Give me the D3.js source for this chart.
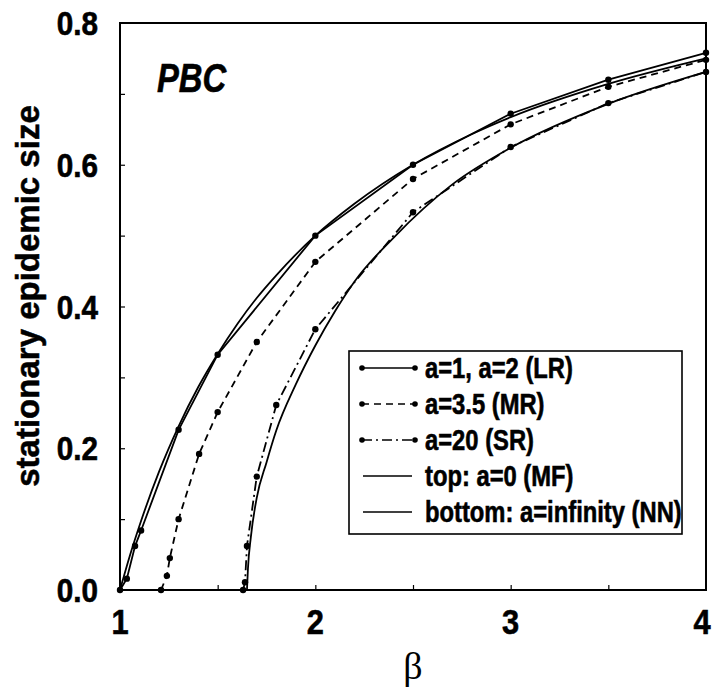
<!DOCTYPE html>
<html><head><meta charset="utf-8">
<script src="https://cdn.jsdelivr.net/npm/d3@7"></script>
<style>
html,body{margin:0;padding:0;background:#fff;}
svg{display:block;}
</style></head>
<body>
<script>
// ---- data ----
const betaLR = [1.0, 1.035, 1.077, 1.108, 1.3, 1.5, 2.0, 2.5, 3.0, 3.5, 4.0];
const valLR  = [0.0, 0.016, 0.062, 0.084, 0.226, 0.332, 0.5, 0.6, 0.672, 0.72, 0.758];

const betaMR = [1.21, 1.24, 1.255, 1.3, 1.405, 1.5, 1.7, 2.0, 2.5, 3.0, 3.5, 4.0];
const valMR  = [0.0, 0.02, 0.045, 0.10, 0.192, 0.251, 0.35, 0.463, 0.58, 0.657, 0.71, 0.748];

const betaSR = [1.63, 1.64, 1.65, 1.7, 1.8, 2.0, 2.5, 3.0, 3.5, 4.0];
const valSR  = [0.0, 0.011, 0.062, 0.16, 0.261, 0.368, 0.533, 0.625, 0.687, 0.731];

const betaMF = [1.0, 1.05, 1.1, 1.2, 1.3, 1.4, 1.5, 1.6, 1.7, 1.8, 2.0, 2.2, 2.5, 2.8, 3.0, 3.5, 4.0];
const valMF  = [0.0, 0.048, 0.091, 0.167, 0.231, 0.286, 0.333, 0.375, 0.412, 0.444, 0.5, 0.545, 0.6, 0.643, 0.667, 0.714, 0.75];

const betaNN = [1.65, 1.655, 1.67, 1.7, 1.75, 1.8, 1.9, 2.0, 2.1, 2.2, 2.4, 2.7, 3.0, 3.5, 4.0];
const valNN  = [0.0, 0.03, 0.075, 0.13, 0.18, 0.225, 0.29, 0.345, 0.393, 0.435, 0.497, 0.572, 0.624, 0.686, 0.731];

const xTicks = [1, 2, 3, 4];
const yTicks = [0.0, 0.2, 0.4, 0.6, 0.8];
const legendLabels = ["a=1, a=2 (LR)", "a=3.5 (MR)", "a=20 (SR)", "top: a=0 (MF)", "bottom: a=infinity (NN)"];

// ---- chart ----
const W = 712, H = 694;
const svg = d3.select("body").append("svg").attr("width", W).attr("height", H);
const x = d3.scaleLinear().domain([1, 4]).range([120, 706]);
const y = d3.scaleLinear().domain([0, 0.8]).range([590, 23]);
const SANS = "'Liberation Sans', Arial, Helvetica, sans-serif";

// condensed bold text helper
function ntext(parent, tx, ty, txt, size, anchor, sx, italic) {
  const g = parent.append("g").attr("transform", `translate(${tx},${ty}) scale(${sx},1)`);
  g.append("text").attr("x", 0).attr("y", 0)
    .attr("text-anchor", anchor)
    .attr("font-family", SANS).attr("font-weight", "bold")
    .attr("font-style", italic ? "italic" : "normal")
    .attr("font-size", size)
    .attr("stroke", "#000").attr("stroke-width", 0.6)
    .text(txt);
  return g;
}

// frame
svg.append("rect").attr("x", x(1)).attr("y", y(0.8))
  .attr("width", x(4) - x(1)).attr("height", y(0) - y(0.8))
  .attr("fill", "none").attr("stroke", "#000").attr("stroke-width", 2);

// axes with inward ticks
const xAxis = d3.axisTop(x).tickValues(d3.range(1.5, 4, 0.5)).tickSize(5).tickFormat("");
svg.append("g").attr("transform", `translate(0,${y(0)})`).call(xAxis)
  .call(g => g.select(".domain").remove())
  .call(g => g.selectAll("line").attr("stroke-width", 1.2));
const yAxis = d3.axisRight(y).tickValues(d3.range(0.1, 0.8, 0.1)).tickSize(5).tickFormat("");
svg.append("g").attr("transform", `translate(${x(1)},0)`).call(yAxis)
  .call(g => g.select(".domain").remove())
  .call(g => g.selectAll("line").attr("stroke-width", 1.2));

// tick labels
const xl = svg.append("g");
xTicks.forEach(d => ntext(xl, Math.min(x(d), 702), 634, String(d), 35, "middle", 0.88));
const yl = svg.append("g");
yTicks.forEach(d => ntext(yl, 98, y(d) + 12, d.toFixed(1), 33, "end", 0.9));

// axis titles
svg.append("text").attr("transform", "translate(39,296) rotate(-90)")
  .attr("text-anchor", "middle")
  .attr("font-family", SANS).attr("font-weight", "bold").attr("font-size", 33)
  .attr("stroke", "#000").attr("stroke-width", 0.5)
  .text("stationary epidemic size");
svg.append("text").attr("x", 413).attr("y", 679).attr("text-anchor", "middle")
  .attr("font-family", "'Liberation Serif', 'Times New Roman', serif").attr("font-size", 38)
  .text("β");

// PBC
ntext(svg, 157, 92, "PBC", 41, "start", 0.8, true);

// curves
const lineLin = d3.line().x(d => x(d[0])).y(d => y(d[1]));
const lineSmooth = d3.line().x(d => x(d[0])).y(d => y(d[1])).curve(d3.curveMonotoneX);
const zip = (a, b) => a.map((v, i) => [v, b[i]]);

const series = [
  {pts: zip(betaMF, valMF), dash: null, dots: false, smooth: true},
  {pts: zip(betaNN, valNN), dash: null, dots: false, smooth: true},
  {pts: zip(betaLR, valLR), dash: null, dots: true, smooth: false},
  {pts: zip(betaMR, valMR), dash: "7,5", dots: true, smooth: false},
  {pts: zip(betaSR, valSR), dash: "10,4,2,4", dots: true, smooth: false}
];
series.forEach(s => {
  svg.append("path").datum(s.pts)
    .attr("d", s.smooth ? lineSmooth : lineLin)
    .attr("fill", "none").attr("stroke", "#000").attr("stroke-width", 1.8)
    .attr("stroke-dasharray", s.dash);
  if (s.dots) {
    svg.append("g").selectAll("circle").data(s.pts).join("circle")
      .attr("cx", d => x(d[0])).attr("cy", d => y(d[1])).attr("r", 3.2).attr("fill", "#000");
  }
});

// legend
const lg = svg.append("g");
lg.append("rect").attr("x", 349).attr("y", 351).attr("width", 333).attr("height", 183)
  .attr("fill", "#fff").attr("stroke", "#000").attr("stroke-width", 1.6);
const legendStyles = [
  {dash: null, dots: true}, {dash: "7,5", dots: true}, {dash: "10,4,2,4", dots: true},
  {dash: null, dots: false}, {dash: null, dots: false}
];
legendLabels.forEach((lab, i) => {
  const cy = 368 + i * 36;
  const st = legendStyles[i];
  const x0 = st.dots ? 362 : 363, x1 = st.dots ? 415 : 412;
  lg.append("line").attr("x1", x0).attr("x2", x1).attr("y1", cy).attr("y2", cy)
    .attr("stroke", "#000").attr("stroke-width", 1.6).attr("stroke-dasharray", st.dash);
  if (st.dots) {
    [x0, x1].forEach(cx => lg.append("circle").attr("cx", cx).attr("cy", cy).attr("r", 2.8).attr("fill", "#000"));
  }
  ntext(lg, 425, cy + 10, lab, 29, "start", 0.82);
});
</script>
</body></html>
